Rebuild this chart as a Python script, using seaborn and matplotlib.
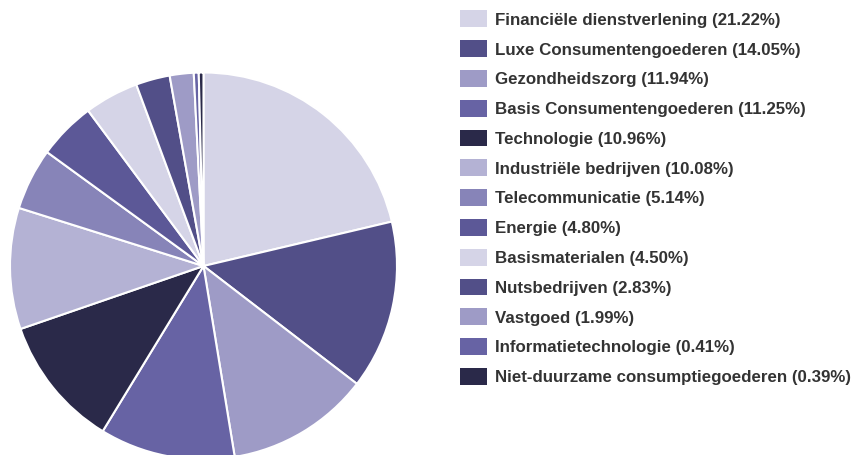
import numpy as np
import seaborn as sns
import matplotlib.pyplot as plt
from matplotlib.patches import Rectangle

# ---- data ----
sectors = [
    "Financiële dienstverlening", "Luxe Consumentengoederen", "Gezondheidszorg",
    "Basis Consumentengoederen", "Technologie", "Industriële bedrijven",
    "Telecommunicatie", "Energie", "Basismaterialen", "Nutsbedrijven",
    "Vastgoed", "Informatietechnologie", "Niet-duurzame consumptiegoederen",
]
weights = [21.22, 14.05, 11.94, 11.25, 10.96, 10.08, 5.14, 4.80, 4.50, 2.83, 1.99, 0.41, 0.39]
base_colors = ["#d5d4e7", "#524f88", "#9e9bc6", "#6763a4",
               "#2a2949", "#b4b2d4", "#8784b8", "#5c5897"]

sns.set_theme(style="white")
plt.rcParams['font.family'] = ['Liberation Sans', 'DejaVu Sans']

W, H = 861, 456
fig = plt.figure(figsize=(W / 100, H / 100), dpi=100)

palette = sns.color_palette(base_colors)
colors = [palette[i % len(palette)] for i in range(len(weights))]

# ---- pie ----
cx, cy, r = 203.5, 456 - 267, 193.5
ax = fig.add_axes([(cx - r) / W, (cy - r) / H, 2 * r / W, 2 * r / H])
ax.pie(weights, colors=colors, startangle=90, counterclock=False,
       wedgeprops=dict(edgecolor="white", linewidth=1.5))
ax.set_xlim(-1, 1)
ax.set_ylim(-1, 1)
ax.set_aspect("equal")
ax.axis("off")

# ---- legend ----
lax = fig.add_axes([0, 0, 1, 1])
lax.set_xlim(0, W)
lax.set_ylim(H, 0)
lax.axis("off")
for i, (name, w) in enumerate(zip(sectors, weights)):
    y = 19.7 + 29.8 * i
    lax.add_patch(Rectangle((460, y - 8.4), 27, 16.8, facecolor=colors[i], edgecolor="none"))
    lax.text(495, y + 0.5, f"{name} ({w:.2f}%)", va="center", ha="left",
             fontsize=12.2, fontweight="bold", color="#333333")

fig.savefig("out.png", dpi=100)
